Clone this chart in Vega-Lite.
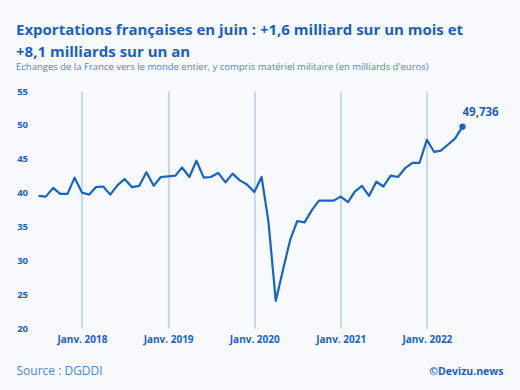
{
  "$schema": "https://vega.github.io/schema/vega-lite/v6.json",
  "width": 424,
  "height": 237,
  "autosize": "none",
  "padding": {"left": 38.5, "top": 91, "right": 57.5, "bottom": 62},
  "background": "#f7f9fc",
  "config": {
    "view": {"stroke": null},
    "font": "Open Sans",
    "locale": {"number": {"decimal": ",", "thousands": " ", "grouping": [3], "currency": ["", " €"]}}
  },
  "title": {
    "text": ["Exportations françaises en juin : +1,6 milliard sur un mois et", "+8,1 milliards sur un an"],
    "subtitle": "Echanges de la France vers le monde entier, y compris matériel militaire (en milliards d'euros)",
    "anchor": "start",
    "frame": "group",
    "dx": -22.5,
    "offset": 15,
    "font": "Open Sans",
    "fontSize": 15,
    "fontWeight": "bold",
    "color": "#1a5fc4",
    "lineHeight": 21.5,
    "subtitleFont": "Open Sans",
    "subtitleFontSize": 9.5,
    "subtitleColor": "#4a86d8",
    "subtitlePadding": 2
  },
  "data": {
    "values": [
      {"date": "2017-07-01", "value": 39.5},
      {"date": "2017-08-01", "value": 39.4},
      {"date": "2017-09-01", "value": 40.7},
      {"date": "2017-10-01", "value": 39.8},
      {"date": "2017-11-01", "value": 39.8},
      {"date": "2017-12-01", "value": 42.2},
      {"date": "2018-01-01", "value": 40.0},
      {"date": "2018-02-01", "value": 39.7},
      {"date": "2018-03-01", "value": 40.8},
      {"date": "2018-04-01", "value": 40.9},
      {"date": "2018-05-01", "value": 39.7},
      {"date": "2018-06-01", "value": 41.1},
      {"date": "2018-07-01", "value": 42.0},
      {"date": "2018-08-01", "value": 40.8},
      {"date": "2018-09-01", "value": 41.0},
      {"date": "2018-10-01", "value": 43.0},
      {"date": "2018-11-01", "value": 41.0},
      {"date": "2018-12-01", "value": 42.3},
      {"date": "2019-01-01", "value": 42.4},
      {"date": "2019-02-01", "value": 42.5},
      {"date": "2019-03-01", "value": 43.7},
      {"date": "2019-04-01", "value": 42.3},
      {"date": "2019-05-01", "value": 44.7},
      {"date": "2019-06-01", "value": 42.2},
      {"date": "2019-07-01", "value": 42.3},
      {"date": "2019-08-01", "value": 42.9},
      {"date": "2019-09-01", "value": 41.5},
      {"date": "2019-10-01", "value": 42.8},
      {"date": "2019-11-01", "value": 41.8},
      {"date": "2019-12-01", "value": 41.2},
      {"date": "2020-01-01", "value": 40.1},
      {"date": "2020-02-01", "value": 42.3},
      {"date": "2020-03-01", "value": 35.7},
      {"date": "2020-04-01", "value": 24.0},
      {"date": "2020-05-01", "value": 28.5},
      {"date": "2020-06-01", "value": 33.0},
      {"date": "2020-07-01", "value": 35.8},
      {"date": "2020-08-01", "value": 35.6},
      {"date": "2020-09-01", "value": 37.4},
      {"date": "2020-10-01", "value": 38.8},
      {"date": "2020-11-01", "value": 38.8},
      {"date": "2020-12-01", "value": 38.8},
      {"date": "2021-01-01", "value": 39.4},
      {"date": "2021-02-01", "value": 38.6},
      {"date": "2021-03-01", "value": 40.1},
      {"date": "2021-04-01", "value": 41.0},
      {"date": "2021-05-01", "value": 39.5},
      {"date": "2021-06-01", "value": 41.6},
      {"date": "2021-07-01", "value": 40.9},
      {"date": "2021-08-01", "value": 42.5},
      {"date": "2021-09-01", "value": 42.3},
      {"date": "2021-10-01", "value": 43.6},
      {"date": "2021-11-01", "value": 44.4},
      {"date": "2021-12-01", "value": 44.4},
      {"date": "2022-01-01", "value": 47.8},
      {"date": "2022-02-01", "value": 46.0},
      {"date": "2022-03-01", "value": 46.2},
      {"date": "2022-04-01", "value": 47.1},
      {"date": "2022-05-01", "value": 48.0},
      {"date": "2022-06-01", "value": 49.736}
    ]
  },
  "encoding": {
    "x": {
      "field": "date",
      "type": "temporal",
      "scale": {
        "type": "utc",
        "domain": [
          {"year": 2017, "month": 7, "date": 1, "utc": true},
          {"year": 2022, "month": 6, "date": 1, "utc": true}
        ]
      },
      "axis": {
        "title": "Source : DGDDI",
        "titleX": -22.5,
        "titleY": 46,
        "titleAlign": "left",
        "titleAnchor": "start",
        "titleBaseline": "alphabetic",
        "titleFont": "Open Sans",
        "titleFontSize": 12,
        "titleFontWeight": "normal",
        "titleColor": "#4a86d8",
        "tickCount": {"interval": "year", "step": 1},
        "labelExpr": "'Janv. ' + utcFormat(datum.value, '%Y')",
        "labelFont": "Open Sans",
        "labelFontSize": 10,
        "labelFontWeight": "bold",
        "labelColor": "#1a5fc4",
        "labelPadding": 6,
        "ticks": false,
        "domain": false,
        "grid": true,
        "gridColor": "#a3c3ef",
        "gridWidth": 1.2
      }
    },
    "y": {
      "field": "value",
      "type": "quantitative",
      "scale": {"domain": [20, 55], "nice": false, "zero": false},
      "axis": {
        "title": "©Devizu.news",
        "titleAngle": 0,
        "titleX": 464.5,
        "titleY": 283,
        "titleAlign": "right",
        "titleBaseline": "alphabetic",
        "titleFont": "Open Sans",
        "titleFontSize": 10.5,
        "titleFontWeight": "bold",
        "titleColor": "#1a5fc4",
        "values": [20, 25, 30, 35, 40, 45, 50, 55],
        "labelFont": "Open Sans",
        "labelFontSize": 9.5,
        "labelFontWeight": "bold",
        "labelColor": "#1a5fc4",
        "labelPadding": 11,
        "ticks": false,
        "domain": false,
        "grid": false
      }
    }
  },
  "layer": [
    {
      "mark": {"type": "line", "color": "#1565c4", "strokeWidth": 2.2, "strokeJoin": "round"}
    },
    {
      "transform": [{"filter": "utcyear(datum.date) == 2022 && utcmonth(datum.date) == 5"}],
      "mark": {"type": "point", "filled": true, "color": "#1565c4", "size": 40, "opacity": 1}
    },
    {
      "transform": [{"filter": "utcyear(datum.date) == 2022 && utcmonth(datum.date) == 5"}],
      "mark": {"type": "text", "align": "left", "baseline": "bottom", "dy": -9, "font": "Open Sans", "fontSize": 11.5, "fontWeight": "bold", "color": "#1a5fc4"},
      "encoding": {"text": {"field": "value", "type": "quantitative", "format": ".3f"}}
    }
  ]
}
